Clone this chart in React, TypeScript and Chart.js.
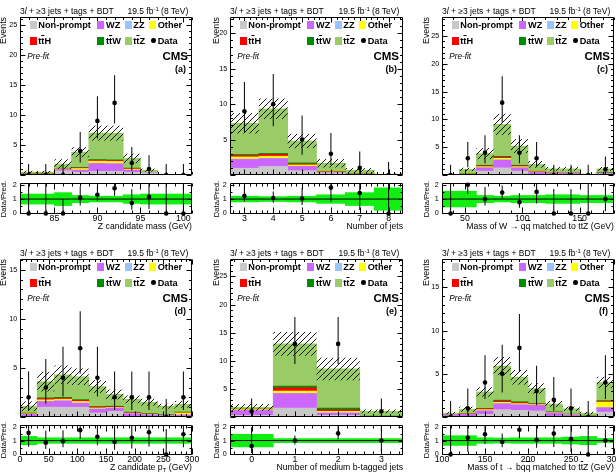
import React, { useEffect, useRef } from 'react';
import { Chart, registerables } from 'chart.js';

Chart.register(...registerables);

const FONT = '"Liberation Sans", Arial, Helvetica, sans-serif';
Chart.defaults.font.family = FONT;
Chart.defaults.color = '#000';

// Stack order, bottom first: Non-prompt, WZ, ZZ, Other, ttH, ttW, ttZ
const PROCESS_COLORS = ['#c8c8c8', '#cc66ff', '#99c2ff', '#ffff00', '#ff0000', '#008c00', '#99cc66'];
const BAND_COLOR = '#11ee11';

// ---------- (a) Z candidate mass ----------
const A_X = [82, 84, 86, 88, 90, 92, 94, 96, 98, 100];
const A_X_TICKS = [85, 90, 95, 100];
const A_Y_TICKS = [5, 10, 15, 20, 25];
const A_NONPROMPT = [0.05, 0.05, 0.7, 0.45, 0.6, 0.6, 0.45, 0.3, 0.01, 0.01];
const A_WZ = [0.05, 0.05, 0.2, 0.35, 1.3, 1.25, 0.35, 0.05, 0.01, 0.01];
const A_ZZ = [0.02, 0.02, 0.02, 0.02, 0.05, 0.05, 0.02, 0.01, 0, 0];
const A_OTHER = [0.02, 0.02, 0.1, 0.25, 0.35, 0.35, 0.15, 0.03, 0, 0];
const A_TTH = [0.02, 0.02, 0.05, 0.1, 0.15, 0.15, 0.1, 0.02, 0, 0];
const A_TTW = [0.03, 0.03, 0.05, 0.08, 0.12, 0.12, 0.08, 0.03, 0, 0];
const A_TTZ = [0.3, 0.3, 0.7, 2.55, 4.4, 4.45, 1.6, 0.36, 0.03, 0.03];
const A_UNC = [0.2, 0.2, 0.8, 0.85, 1.25, 1.25, 0.8, 0.25, 0.02, 0.02];
const A_DATA = [0, 0, 0, 4, 9, 12, 2, 1, 0, 0];
const A_DATA_LO = [0, 0, 0, 2.09, 6.06, 8.58, 0.71, 0.17, 0, 0];
const A_DATA_HI = [1.84, 1.84, 1.84, 7.16, 13.11, 16.61, 4.64, 3.3, 1.84, 1.84];
const A_RATIO = [0, 0, 0, 1.1, 1.3, 1.75, 0.72, 1.15, 0, 0];
const A_RATIO_LO = [0, 0, 0, 0.55, 0.87, 1.23, 0.26, 0.3, 0, 0];
const A_RATIO_HI = [3.8, 3.8, 1.0, 1.88, 1.88, 2.38, 1.69, 2.3, 9, 9];
const A_BAND = [0.35, 0.35, 0.45, 0.25, 0.2, 0.2, 0.3, 0.35, 0.35, 0.35];

// ---------- (b) Number of jets ----------
const B_X = [3, 4, 5, 6, 7, 8];
const B_X_TICKS = [3, 4, 5, 6, 7, 8];
const B_Y_TICKS = [5, 10, 15, 20];
const B_NONPROMPT = [0.95, 1.2, 0.6, 0.2, 0.05, 0.01];
const B_WZ = [1.25, 1.1, 0.6, 0.1, 0.05, 0.01];
const B_ZZ = [0.05, 0.05, 0.02, 0.01, 0, 0];
const B_OTHER = [0.3, 0.3, 0.2, 0.1, 0.02, 0.01];
const B_TTH = [0.2, 0.25, 0.13, 0.05, 0.02, 0.01];
const B_TTW = [0.15, 0.15, 0.15, 0.05, 0.02, 0];
const B_TTZ = [4.4, 6.3, 3.1, 1.15, 0.52, 0.08];
const B_UNC = [1.45, 1.45, 1.0, 0.6, 0.3, 0.08];
const B_DATA = [9, 10, 5, 3, 1, 0];
const B_DATA_LO = [6.06, 6.89, 2.84, 1.37, 0.17, 0];
const B_DATA_HI = [13.11, 14.26, 8.38, 5.92, 3.3, 1.84];
const B_RATIO = [1.22, 1.07, 1.04, 1.8, 1.42, 0];
const B_RATIO_LO = [0.83, 0.74, 0.59, 0.82, 0.24, 0];
const B_RATIO_HI = [1.8, 1.53, 1.75, 3.5, 4.7, 15];
const B_BAND = [0.2, 0.17, 0.2, 0.3, 0.45, 0.78];

// ---------- (c) Mass of W -> qq matched to ttZ ----------
const C_X = [37.5, 52.5, 67.5, 82.5, 97.5, 112.5, 127.5, 142.5, 157.5, 172.5];
const C_X_TICKS = [50, 100, 150];
const C_Y_TICKS = [5, 10, 15, 20, 25];
const C_NONPROMPT = [0.01, 0.05, 0.7, 1.28, 0.7, 0.1, 0.02, 0.02, 0.01, 0.05];
const C_WZ = [0.01, 0.05, 0.58, 1.4, 0.58, 0.35, 0.3, 0.3, 0.05, 0.2];
const C_ZZ = [0, 0.01, 0.02, 0.04, 0.02, 0.02, 0.01, 0.01, 0, 0.01];
const C_OTHER = [0, 0.03, 0.2, 0.28, 0.2, 0.08, 0.03, 0.03, 0.01, 0.04];
const C_TTH = [0, 0.02, 0.15, 0.2, 0.15, 0.08, 0.02, 0.02, 0.01, 0.03];
const C_TTW = [0, 0.04, 0.1, 0.15, 0.1, 0.05, 0.05, 0.05, 0.01, 0.07];
const C_TTZ = [0.03, 0.8, 2.1, 5.75, 3.45, 1.22, 0.67, 0.67, 0.06, 0.7];
const C_UNC = [0.02, 0.3, 1.0, 1.9, 1.25, 0.6, 0.35, 0.35, 0.05, 0.35];
const C_DATA = [0, 3, 4, 13, 4, 3, 0, 0, 0, 1];
const C_DATA_LO = [0, 1.37, 2.09, 9.42, 2.09, 1.37, 0, 0, 0, 0.17];
const C_DATA_HI = [1.84, 5.92, 7.16, 17.77, 7.16, 5.92, 1.84, 1.84, 1.84, 3.3];
const C_RATIO = [0, 2.0, 1.0, 1.45, 0.78, 1.5, 0, 0, 0, 1.0];
const C_RATIO_LO = [0, 1.35, 0.55, 1.03, 0.4, 0.7, 0, 0, 0, 0.16];
const C_RATIO_HI = [20, 4, 1.85, 1.95, 1.4, 3.0, 1.7, 1.7, 12, 3.0];
const C_BAND = [0.55, 0.55, 0.25, 0.2, 0.25, 0.25, 0.3, 0.3, 0.25, 0.25];

// ---------- (d) Z candidate pT ----------
const D_X = [15, 45, 75, 105, 135, 165, 195, 225, 255, 285];
const D_X_TICKS = [0, 50, 100, 150, 200, 250, 300];
const D_Y_TICKS = [5, 10, 15];
const D_NONPROMPT = [0.05, 1.0, 1.0, 1.0, 0.4, 0.57, 0.05, 0.02, 0.02, 0.05];
const D_WZ = [0.2, 0.57, 0.63, 0.4, 0.4, 0.33, 0.28, 0.2, 0.12, 0.15];
const D_ZZ = [0.02, 0.03, 0.03, 0.03, 0.02, 0.02, 0.01, 0.01, 0.01, 0.01];
const D_OTHER = [0.05, 0.15, 0.15, 0.15, 0.1, 0.05, 0.05, 0.05, 0.02, 0.2];
const D_TTH = [0.03, 0.12, 0.12, 0.12, 0.1, 0.08, 0.05, 0.03, 0.02, 0.03];
const D_TTW = [0.05, 0.08, 0.07, 0.07, 0.05, 0.05, 0.05, 0.04, 0.03, 0.06];
const D_TTZ = [0.7, 1.65, 2.3, 2.33, 2.03, 1.2, 1.31, 1.15, 0.88, 0.8];
const D_UNC = [0.5, 1.0, 0.95, 0.85, 0.65, 0.5, 0.4, 0.35, 0.25, 0.35];
const D_DATA = [2, 3, 4, 7, 4, 2, 2, 2, 0, 2];
const D_DATA_LO = [0.71, 1.37, 2.09, 4.42, 2.09, 0.71, 0.71, 0.71, 0, 0.71];
const D_DATA_HI = [4.64, 5.92, 7.16, 10.77, 7.16, 4.64, 4.64, 4.64, 1.84, 4.64];
const D_RATIO = [1.55, 0.85, 0.95, 1.75, 1.27, 0.9, 1.2, 1.6, 0, 1.45];
const D_RATIO_LO = [0.55, 0.4, 0.51, 1.12, 0.66, 0.33, 0.43, 0.57, 0, 0.52];
const D_RATIO_HI = [3.5, 1.72, 1.75, 2.73, 2.26, 2.14, 2.78, 3.7, 1.84, 3.4];
const D_BAND = [0.3, 0.2, 0.2, 0.2, 0.2, 0.2, 0.2, 0.2, 0.2, 0.2];

// ---------- (e) Number of medium b-tagged jets ----------
const E_X = [0, 1, 2, 3];
const E_X_TICKS = [0, 1, 2, 3];
const E_Y_TICKS = [5, 10, 15, 20, 25];
const E_NONPROMPT = [0.3, 1.6, 0.3, 0.02];
const E_WZ = [0.85, 2.55, 0.4, 0.05];
const E_ZZ = [0.05, 0.05, 0.02, 0];
const E_OTHER = [0.1, 0.4, 0.3, 0.03];
const E_TTH = [0.05, 0.6, 0.25, 0.02];
const E_TTW = [0.05, 0.3, 0.33, 0.05];
const E_TTZ = [0.3, 7.5, 6.95, 0.83];
const E_UNC = [0.6, 2.1, 2.0, 0.35];
const E_DATA = [1, 13, 13, 1];
const E_DATA_LO = [0.17, 9.42, 9.42, 0.17];
const E_DATA_HI = [3.3, 17.77, 17.77, 3.3];
const E_RATIO = [0.6, 1.0, 1.52, 1.0];
const E_RATIO_LO = [0.1, 0.72, 1.1, 0.17];
const E_RATIO_HI = [1.95, 1.37, 2.08, 3.3];
const E_BAND = [0.45, 0.15, 0.15, 0.15];

// ---------- (f) Mass of t -> bqq matched to ttZ ----------
const F_X = [110, 130, 150, 170, 190, 210, 230, 250, 270, 290];
const F_X_TICKS = [100, 150, 200, 250, 300];
const F_Y_TICKS = [5, 10, 15];
const F_NONPROMPT = [0.02, 0.05, 0.3, 0.85, 0.77, 0.7, 0.05, 0.02, 0.02, 0.57];
const F_WZ = [0.2, 0.25, 0.4, 0.68, 0.63, 0.65, 0.4, 0.2, 0.05, 0.5];
const F_ZZ = [0.01, 0.01, 0.02, 0.03, 0.03, 0.02, 0.01, 0.01, 0, 0.02];
const F_OTHER = [0.02, 0.03, 0.13, 0.14, 0.12, 0.07, 0.04, 0.03, 0.01, 0.63];
const F_TTH = [0.02, 0.03, 0.1, 0.15, 0.12, 0.06, 0.05, 0.02, 0.01, 0.08];
const F_TTW = [0.03, 0.03, 0.05, 0.1, 0.1, 0.05, 0.05, 0.05, 0.03, 0.1];
const F_TTZ = [0.15, 0.5, 1.9, 3.95, 2.83, 1.75, 0.9, 0.62, 0.33, 2.1];
const F_UNC = [0.15, 0.3, 0.55, 1.05, 0.85, 0.6, 0.35, 0.25, 0.15, 0.65];
const F_DATA = [0, 1, 4, 5, 8, 3, 2, 1, 0, 4];
const F_DATA_LO = [0, 0.17, 2.09, 2.84, 5.23, 1.37, 0.71, 0.17, 0, 2.09];
const F_DATA_HI = [1.84, 3.3, 7.16, 8.38, 11.94, 5.92, 4.64, 3.3, 1.84, 7.16];
const F_RATIO = [0, 1.2, 1.45, 0.9, 1.78, 1.05, 1.5, 1.1, 0, 1.0];
const F_RATIO_LO = [0, 0.2, 0.76, 0.51, 1.16, 0.48, 0.53, 0.19, 0, 0.52];
const F_RATIO_HI = [4, 3.97, 2.6, 1.51, 2.65, 2.07, 3.5, 3.6, 4.1, 1.79];
const F_BAND = [0.35, 0.35, 0.2, 0.18, 0.2, 0.2, 0.2, 0.25, 0.3, 0.15];

const RATIO_TICKS = [0, 1, 2];
const RATIO_MIN = -0.04;
const RATIO_MAX = 2.12;

const Ov = ({ children }: { children: React.ReactNode }) => (
  <span style={{ textDecoration: 'overline', textDecorationThickness: '1px' }}>{children}</span>
);

type Panel = {
  id: string; col: number; row: number;
  x: number[]; xTicks: number[]; yTicks: number[];
  stack: number[][]; unc: number[];
  data: number[]; dataLo: number[]; dataHi: number[];
  ratio: number[]; ratioLo: number[]; ratioHi: number[]; band: number[];
  xMin: number; xMax: number; xMajor: number; xMinor: number; yMax: number;
  xTitle: React.ReactNode;
};

const PANELS: Panel[] = [
  {
    id: 'a', col: 0, row: 0, x: A_X, xTicks: A_X_TICKS, yTicks: A_Y_TICKS,
    stack: [A_NONPROMPT, A_WZ, A_ZZ, A_OTHER, A_TTH, A_TTW, A_TTZ], unc: A_UNC,
    data: A_DATA, dataLo: A_DATA_LO, dataHi: A_DATA_HI,
    ratio: A_RATIO, ratioLo: A_RATIO_LO, ratioHi: A_RATIO_HI, band: A_BAND,
    xMin: 81, xMax: 101, xMajor: 5, xMinor: 1, yMax: 26.3,
    xTitle: <>Z candidate mass (GeV)</>,
  },
  {
    id: 'b', col: 1, row: 0, x: B_X, xTicks: B_X_TICKS, yTicks: B_Y_TICKS,
    stack: [B_NONPROMPT, B_WZ, B_ZZ, B_OTHER, B_TTH, B_TTW, B_TTZ], unc: B_UNC,
    data: B_DATA, dataLo: B_DATA_LO, dataHi: B_DATA_HI,
    ratio: B_RATIO, ratioLo: B_RATIO_LO, ratioHi: B_RATIO_HI, band: B_BAND,
    xMin: 2.5, xMax: 8.5, xMajor: 1, xMinor: 0.2, yMax: 22.3,
    xTitle: <>Number of jets</>,
  },
  {
    id: 'c', col: 2, row: 0, x: C_X, xTicks: C_X_TICKS, yTicks: C_Y_TICKS,
    stack: [C_NONPROMPT, C_WZ, C_ZZ, C_OTHER, C_TTH, C_TTW, C_TTZ], unc: C_UNC,
    data: C_DATA, dataLo: C_DATA_LO, dataHi: C_DATA_HI,
    ratio: C_RATIO, ratioLo: C_RATIO_LO, ratioHi: C_RATIO_HI, band: C_BAND,
    xMin: 30, xMax: 180, xMajor: 50, xMinor: 10, yMax: 28.4,
    xTitle: <>Mass of W → q<Ov>q</Ov> matched to t<Ov>t</Ov>Z (GeV)</>,
  },
  {
    id: 'd', col: 0, row: 1, x: D_X, xTicks: D_X_TICKS, yTicks: D_Y_TICKS,
    stack: [D_NONPROMPT, D_WZ, D_ZZ, D_OTHER, D_TTH, D_TTW, D_TTZ], unc: D_UNC,
    data: D_DATA, dataLo: D_DATA_LO, dataHi: D_DATA_HI,
    ratio: D_RATIO, ratioLo: D_RATIO_LO, ratioHi: D_RATIO_HI, band: D_BAND,
    xMin: 0, xMax: 300, xMajor: 50, xMinor: 10, yMax: 16.1,
    xTitle: <>Z candidate p<span style={{ fontSize: '0.7em', position: 'relative', top: '0.3em' }}>T</span> (GeV)</>,
  },
  {
    id: 'e', col: 1, row: 1, x: E_X, xTicks: E_X_TICKS, yTicks: E_Y_TICKS,
    stack: [E_NONPROMPT, E_WZ, E_ZZ, E_OTHER, E_TTH, E_TTW, E_TTZ], unc: E_UNC,
    data: E_DATA, dataLo: E_DATA_LO, dataHi: E_DATA_HI,
    ratio: E_RATIO, ratioLo: E_RATIO_LO, ratioHi: E_RATIO_HI, band: E_BAND,
    xMin: -0.5, xMax: 3.5, xMajor: 1, xMinor: 0.2, yMax: 28.1,
    xTitle: <>Number of medium b-tagged jets</>,
  },
  {
    id: 'f', col: 2, row: 1, x: F_X, xTicks: F_X_TICKS, yTicks: F_Y_TICKS,
    stack: [F_NONPROMPT, F_WZ, F_ZZ, F_OTHER, F_TTH, F_TTW, F_TTZ], unc: F_UNC,
    data: F_DATA, dataLo: F_DATA_LO, dataHi: F_DATA_HI,
    ratio: F_RATIO, ratioLo: F_RATIO_LO, ratioHi: F_RATIO_HI, band: F_BAND,
    xMin: 100, xMax: 300, xMajor: 50, xMinor: 10, yMax: 18.3,
    xTitle: <>Mass of t → bq<Ov>q</Ov> matched to t<Ov>t</Ov>Z (GeV)</>,
  },
];

// Frame geometry of each column / row of pads
const COLS = [
  { left: 20, right: 192, titleX: 6.7 },
  { left: 230, right: 403, titleX: 219 },
  { left: 442, right: 614, titleX: 429.3 },
];
const ROWS = [
  { top: 17, bottom: 178, rTop: 183, rBottom: 214 },
  { top: 259, bottom: 420, rTop: 425, rBottom: 455 },
];

const PAD_L = 30, Y_AXIS_W = 20, PAD_R = 12, PAD_T = 8;

// Closed frame with inward major/minor ticks on all four sides
const frameTicks = {
  id: 'frameTicks',
  afterDatasetsDraw(chart: any, _args: any, o: any) {
    const { ctx, chartArea: a } = chart;
    const xs = chart.scales.x;
    const ys = chart.scales.y;
    const L = Math.round(a.left) + 0.5;
    const R = Math.round(a.right) - 0.5;
    const T = Math.round(a.top) + 0.5;
    const B = Math.round(a.bottom) - 0.5;
    ctx.save();
    ctx.strokeStyle = '#000';
    ctx.lineWidth = 1;
    ctx.beginPath();
    ctx.rect(L, T, R - L, B - T);
    const each = (min: number, max: number, step: number, fn: (v: number) => void) => {
      const k0 = Math.ceil(min / step - 1e-6);
      const k1 = Math.floor(max / step + 1e-6);
      for (let k = k0; k <= k1; k++) fn(k * step);
    };
    const isMajor = (v: number, major: number) => Math.abs(v / major - Math.round(v / major)) < 1e-6;
    const xTick = (v: number, len: number) => {
      const px = Math.round(xs.getPixelForValue(v)) + 0.5;
      ctx.moveTo(px, B); ctx.lineTo(px, B - len);
      ctx.moveTo(px, T); ctx.lineTo(px, T + len);
    };
    const yTick = (v: number, len: number) => {
      const py = Math.round(ys.getPixelForValue(v)) + 0.5;
      ctx.moveTo(L, py); ctx.lineTo(L + len, py);
      ctx.moveTo(R, py); ctx.lineTo(R - len, py);
    };
    each(xs.min, xs.max, o.xMinor, (v) => xTick(v, isMajor(v, o.xMajor) ? o.xLen : o.xLen / 2));
    each(ys.min, ys.max, o.yMinor, (v) => yTick(v, isMajor(v, o.yMajor) ? o.yLen : o.yLen / 2));
    ctx.stroke();
    ctx.restore();
  },
};
Chart.register(frameTicks);

function hatchPattern(): CanvasPattern {
  const c = document.createElement('canvas');
  c.width = 6;
  c.height = 6;
  const g = c.getContext('2d')!;
  g.strokeStyle = '#000';
  g.lineWidth = 0.9;
  g.beginPath();
  g.moveTo(0, 6); g.lineTo(6, 0);
  g.moveTo(-1, 1); g.lineTo(1, -1);
  g.moveTo(5, 7); g.lineTo(7, 5);
  g.stroke();
  return g.createPattern(c, 'repeat')!;
}

const barBase = { type: 'bar', grouped: false, barPercentage: 1, categoryPercentage: 1, borderWidth: 0 };
const errBase = { ...barBase, barThickness: 1, inflateAmount: 0, backgroundColor: '#000' };
const pointBase = {
  type: 'line', showLine: false, pointRadius: 2.3,
  pointBackgroundColor: '#000', pointBorderWidth: 0, order: 0,
};

function mainConfig(p: Panel): any {
  const tops = p.x.map(() => 0);
  const stackSets = p.stack.map((vals, k) => ({
    ...barBase,
    data: p.x.map((x, i) => {
      const lo = tops[i];
      tops[i] = lo + vals[i];
      return { x, y: [lo, tops[i]] };
    }),
    backgroundColor: PROCESS_COLORS[k],
    order: 10,
  }));
  return {
    type: 'bar',
    data: {
      datasets: [
        ...stackSets,
        {
          ...barBase,
          data: p.x.map((x, i) => ({ x, y: [tops[i] - p.unc[i], tops[i] + p.unc[i]] })),
          backgroundColor: hatchPattern(),
          inflateAmount: 0,
          order: 5,
        },
        {
          ...errBase,
          data: p.x.map((x, i) => ({ x, y: [p.dataLo[i], p.dataHi[i]] })),
          order: 1,
        },
        {
          ...pointBase,
          data: p.x.map((x, i) => ({ x, y: p.data[i] })),
        },
      ],
    },
    options: {
      animation: false,
      responsive: false,
      devicePixelRatio: 1,
      events: [],
      layout: { padding: { left: PAD_L - Y_AXIS_W, top: PAD_T, right: PAD_R, bottom: 4 } },
      plugins: {
        legend: { display: false },
        tooltip: { enabled: false },
        frameTicks: { xMajor: p.xMajor, xMinor: p.xMinor, xLen: 5, yMajor: 5, yMinor: 1, yLen: 5 },
      },
      scales: {
        x: {
          type: 'linear', min: p.xMin, max: p.xMax, offset: false,
          grid: { display: false, drawTicks: false }, border: { display: false },
          ticks: { display: false },
          afterBuildTicks: (s: any) => { s.ticks = p.xTicks.map((v) => ({ value: v })); },
          afterFit: (s: any) => { s.height = 0; },
        },
        y: {
          type: 'linear', min: 0, max: p.yMax,
          grid: { display: false, drawTicks: false }, border: { display: false },
          ticks: { font: { size: 7.2 }, padding: 2.7, autoSkip: false },
          afterBuildTicks: (s: any) => { s.ticks = p.yTicks.map((v) => ({ value: v })); },
          afterFit: (s: any) => { s.width = Y_AXIS_W; },
        },
      },
    },
  };
}

function ratioConfig(p: Panel): any {
  return {
    type: 'bar',
    data: {
      datasets: [
        {
          ...barBase,
          data: p.x.map((x, i) => ({ x, y: [1 - p.band[i], 1 + p.band[i]] })),
          backgroundColor: BAND_COLOR,
          order: 10,
        },
        {
          type: 'line',
          data: [{ x: p.xMin, y: 1 }, { x: p.xMax, y: 1 }],
          borderColor: '#000',
          borderWidth: 1,
          pointRadius: 0,
          order: 5,
        },
        {
          ...errBase,
          data: p.x.map((x, i) => ({ x, y: [p.ratioLo[i], p.ratioHi[i]] })),
          order: 1,
        },
        {
          ...pointBase,
          clip: 4,
          data: p.x.map((x, i) => ({ x, y: p.ratio[i] })),
        },
      ],
    },
    options: {
      animation: false,
      responsive: false,
      devicePixelRatio: 1,
      events: [],
      layout: { padding: { left: PAD_L - Y_AXIS_W, top: PAD_T, right: PAD_R, bottom: 4 } },
      plugins: {
        legend: { display: false },
        tooltip: { enabled: false },
        frameTicks: { xMajor: p.xMajor, xMinor: p.xMinor, xLen: 6, yMajor: 1, yMinor: 0.5, yLen: 4 },
      },
      scales: {
        x: {
          type: 'linear', min: p.xMin, max: p.xMax, offset: false,
          grid: { display: false, drawTicks: false }, border: { display: false },
          ticks: { font: { size: 8.8 }, padding: -1, autoSkip: false, maxRotation: 0 },
          afterBuildTicks: (s: any) => { s.ticks = p.xTicks.map((v) => ({ value: v })); },
          afterFit: (s: any) => { s.height = 16; },
        },
        y: {
          type: 'linear', min: RATIO_MIN, max: RATIO_MAX,
          grid: { display: false, drawTicks: false }, border: { display: false },
          ticks: { font: { size: 7.2 }, padding: 3.3, autoSkip: false },
          afterBuildTicks: (s: any) => { s.ticks = RATIO_TICKS.map((v) => ({ value: v })); },
          afterFit: (s: any) => { s.width = Y_AXIS_W; },
        },
      },
    },
  };
}

function ChartCanvas({ left, top, width, height, make }: { left: number; top: number; width: number; height: number; make: () => any }) {
  const ref = useRef<HTMLCanvasElement>(null);
  useEffect(() => {
    const chart = new Chart(ref.current!, make());
    return () => chart.destroy();
  }, []);
  return (
    <canvas
      ref={ref}
      width={width}
      height={height}
      style={{ position: 'absolute', left, top, width, height }}
    />
  );
}

// Text placed by its baseline; rotated text reads upwards with its baseline at x
function Label({
  x, y, size, anchor = 'start', rotate = false, bold = false, italic = false, children,
}: {
  x: number; y: number; size: number; anchor?: 'start' | 'middle' | 'end';
  rotate?: boolean; bold?: boolean; italic?: boolean; children: React.ReactNode;
}) {
  const shift = anchor === 'end' ? '-100%' : anchor === 'middle' ? '-50%' : '0';
  const asc = 0.8465 * size;
  const wrap: React.CSSProperties = rotate
    ? { position: 'absolute', left: x - asc, top: y, width: 0, height: 0 }
    : { position: 'absolute', left: x, top: y - asc, width: 0, height: 0 };
  return (
    <div style={wrap}>
      <div
        style={{
          position: 'absolute', left: 0, top: 0, whiteSpace: 'nowrap',
          fontFamily: FONT, fontSize: size, lineHeight: `${size}px`,
          fontWeight: bold ? 700 : 400, fontStyle: italic ? 'italic' : 'normal', color: '#000',
          transformOrigin: '0 0',
          transform: rotate ? `rotate(-90deg) translate(${shift}, 0)` : `translate(${shift}, 0)`,
        }}
      >
        {children}
      </div>
    </div>
  );
}

const LEGEND_ROWS: { name: React.ReactNode; color: number }[][] = [
  [
    { name: 'Non-prompt', color: 0 },
    { name: 'WZ', color: 1 },
    { name: 'ZZ', color: 2 },
    { name: 'Other', color: 3 },
  ],
  [
    { name: <>t<Ov>t</Ov>H</>, color: 4 },
    { name: <>t<Ov>t</Ov>W</>, color: 5 },
    { name: <>t<Ov>t</Ov>Z</>, color: 6 },
    { name: 'Data', color: -1 },
  ],
];
const LEGEND_BOX_X = [10, 77.3, 105, 129];
const LEGEND_TEXT_X = [18.3, 86, 113.3, 137.7];
const LEGEND_ROW_Y = [11.7, 27.5];

function PanelView({ p }: { p: Panel }) {
  const c = COLS[p.col];
  const r = ROWS[p.row];
  const fw = c.right - c.left;
  const mainH = r.bottom - r.top;
  const ratioH = r.rBottom - r.rTop;
  return (
    <>
      <ChartCanvas
        left={c.left - PAD_L}
        top={r.top - PAD_T}
        width={fw + PAD_L + PAD_R}
        height={mainH + PAD_T + 4}
        make={() => mainConfig(p)}
      />
      <ChartCanvas
        left={c.left - PAD_L}
        top={r.rTop - PAD_T}
        width={fw + PAD_L + PAD_R}
        height={ratioH + PAD_T + 16 + 4}
        make={() => ratioConfig(p)}
      />
      {/* header */}
      <Label x={c.left} y={r.top - 2.7} size={8.5}>
        3<i>l</i> + ≥3 jets + tags + BDT
      </Label>
      <Label x={c.right - 3.7} y={r.top - 2.7} size={8.5} anchor="end">
        19.5 fb<span style={{ fontSize: '0.7em', position: 'relative', top: '-0.5em' }}>-1</span> (8 TeV)
      </Label>
      {/* legend */}
      {LEGEND_ROWS.map((row, ri) =>
        row.map((it, ci) => {
          const base = r.top + LEGEND_ROW_Y[ri];
          return (
            <React.Fragment key={`${ri}-${ci}`}>
              {it.color >= 0 ? (
                <div
                  style={{
                    position: 'absolute', left: c.left + LEGEND_BOX_X[ci], top: base - 8,
                    width: 7, height: 8.5, background: PROCESS_COLORS[it.color],
                  }}
                />
              ) : (
                <div
                  style={{
                    position: 'absolute', left: c.left + LEGEND_BOX_X[ci] + 2, top: base - 6.2,
                    width: 4.6, height: 4.6, borderRadius: '50%', background: '#000',
                  }}
                />
              )}
              <Label x={c.left + LEGEND_TEXT_X[ci]} y={base} size={9.2} bold>
                {it.name}
              </Label>
            </React.Fragment>
          );
        })
      )}
      <Label x={c.left + 7.3} y={r.top + 42.5} size={8.2} italic>Pre-fit</Label>
      <Label x={c.right - 4} y={r.top + 44} size={11.5} bold anchor="end">CMS</Label>
      <Label x={c.right - 6} y={r.top + 55.7} size={9} bold anchor="end">({p.id})</Label>
      {/* axis titles */}
      <Label x={c.titleX} y={r.top} size={8.8} rotate anchor="end">Events</Label>
      <Label x={c.titleX} y={(r.rTop + r.rBottom) / 2} size={7.6} rotate anchor="middle">Data/Pred.</Label>
      <Label x={c.right} y={r.rBottom + 15.5} size={8.7} anchor="end">{p.xTitle}</Label>
    </>
  );
}

export default function App() {
  return (
    <div
      style={{
        position: 'fixed', left: 0, top: 0, width: 616, height: 474,
        overflow: 'hidden', background: '#fff',
      }}
    >
      {PANELS.map((p) => (
        <PanelView key={p.id} p={p} />
      ))}
    </div>
  );
}
